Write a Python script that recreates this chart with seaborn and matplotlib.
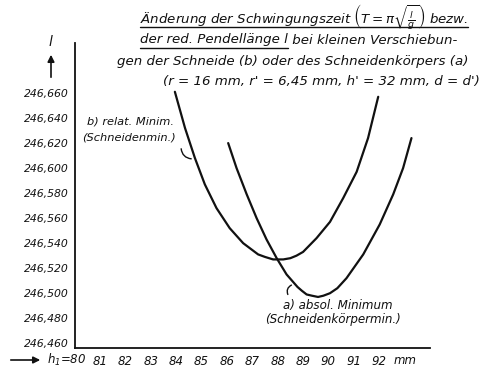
import matplotlib
matplotlib.use("Agg")
import matplotlib.pyplot as plt
import pandas as pd
import seaborn as sns
from matplotlib.lines import Line2D
from matplotlib.patches import FancyArrowPatch
from matplotlib.ticker import FuncFormatter

# ------------------------------------------------------------------------
#  Data (h1 in mm, l in mm)
# ------------------------------------------------------------------------

# b) relatives Minimum (Schneidenmin.)
h1_b = [83.95, 84.35, 84.74, 85.13, 85.59, 86.11, 86.64, 87.23, 87.50, 87.82,
        88.22, 88.50, 88.74, 89.00, 89.53, 90.06, 90.58, 91.11, 91.56, 91.96]
l_b = [246.661, 246.632, 246.608, 246.587, 246.568, 246.552, 246.540, 246.531, 246.529, 246.527,
       246.527, 246.528, 246.530, 246.533, 246.544, 246.557, 246.576, 246.597, 246.624, 246.657]

# a) absolutes Minimum (Schneidenkoerpermin.)
h1_a = [86.05, 86.38, 86.78, 87.17, 87.56, 87.96, 88.35, 88.78, 88.95, 89.14, 89.35,
        89.59, 89.80, 90.06, 90.35, 90.71, 91.37, 92.02, 92.55, 92.94, 93.27]
l_a = [246.620, 246.600, 246.579, 246.560, 246.543, 246.528, 246.515, 246.505, 246.502, 246.499, 246.498,
       246.497, 246.498, 246.500, 246.504, 246.512, 246.531, 246.555, 246.579, 246.600, 246.624]

x_ticks = [81, 82, 83, 84, 85, 86, 87, 88, 89, 90, 91, 92]
y_ticks = [246.46, 246.48, 246.50, 246.52, 246.54, 246.56, 246.58, 246.60, 246.62, 246.64, 246.66]

title_lines = [
    r"Änderung der Schwingungszeit $\left(T=\pi\sqrt{\frac{l}{g}}\right)$ bezw.",
    "der red. Pendellänge l",
    " bei kleinen Verschiebun-",
    "gen der Schneide (b) oder des Schneidenkörpers (a)",
    "(r = 16 mm, r' = 6,45 mm, h' = 32 mm, d = d')",
]

W, H = 485, 367
INK = "#111111"


def px(x, y):
    """pixel position in the 485x367 image -> figure fraction"""
    return x / W, 1 - y / H


sns.set_theme(style="white")
plt.rcParams["font.family"] = ["DejaVu Sans"]
plt.rcParams["font.style"] = "italic"
plt.rcParams["mathtext.fontset"] = "dejavusans"

fig = plt.figure(figsize=(W / 100, H / 100), dpi=100)
fig.patch.set_facecolor("white")
ax = fig.add_axes([74.6 / W, 19 / H, 355.4 / W, 305 / H])

df_b = pd.DataFrame({"h1": h1_b, "l": l_b})
df_a = pd.DataFrame({"h1": h1_a, "l": l_a})
for df in (df_b, df_a):
    sns.lineplot(data=df, x="h1", y="l", sort=False, estimator=None, color=INK, lw=1.6,
                 solid_joinstyle="round", solid_capstyle="round", ax=ax)

ax.set_xlim(80, 94)
ax.set_ylim(246.4562, 246.700)
ax.set_xticks(x_ticks)
ax.set_yticks(y_ticks)
ax.yaxis.set_major_formatter(FuncFormatter(lambda v, _: f"{v:.3f}".replace(".", ",")))
ax.set_xlabel("")
ax.set_ylabel("")
for side in ["top", "right"]:
    ax.spines[side].set_visible(False)
for side in ["left", "bottom"]:
    ax.spines[side].set_color(INK)
    ax.spines[side].set_linewidth(1.3)
ax.tick_params(axis="x", direction="in", length=5, width=1, colors=INK, pad=5, labelsize=8.5)
ax.tick_params(axis="y", direction="out", length=3.5, width=1, colors=INK, pad=1, labelsize=7.8)
ax.set_facecolor("white")

# x axis extra labels
fig.text(*px(86, 360), r"$h_1$=80", ha="right", va="center", fontsize=8.5, color=INK)
fig.text(*px(405, 360), "mm", ha="center", va="center", fontsize=8.5, color=INK)
fig.add_artist(FancyArrowPatch(px(8, 360), px(43, 360), transform=fig.transFigure,
                               arrowstyle="-|>,head_length=4,head_width=2", color=INK, lw=1.2))

# y axis label with arrow
fig.text(*px(50, 42), "l", ha="center", va="center", fontsize=10, color=INK)
fig.add_artist(FancyArrowPatch(px(51, 80), px(51, 52), transform=fig.transFigure,
                               arrowstyle="-|>,head_length=4,head_width=2", color=INK, lw=1.2))

# title block
FS = 9.6
t1 = fig.text(*px(140, 17), title_lines[0], ha="left", va="center", fontsize=FS, color=INK)
t2a = fig.text(*px(140, 40), title_lines[1], ha="left", va="center", fontsize=FS, color=INK)
fig.canvas.draw()
renderer = fig.canvas.get_renderer()
bb2 = t2a.get_window_extent(renderer)
fig.text(bb2.x1 / W, 1 - 40 / H, title_lines[2], ha="left", va="center", fontsize=FS, color=INK)
fig.text(*px(117, 61), title_lines[3], ha="left", va="center", fontsize=FS, color=INK)
fig.text(*px(163, 81), title_lines[4], ha="left", va="center", fontsize=FS, color=INK)

bb1 = t1.get_window_extent(renderer)
for bb, y in [(bb1, 27), (bb2, 48)]:
    fig.add_artist(Line2D([bb.x0 / W, bb.x1 / W], [1 - y / H, 1 - y / H],
                          transform=fig.transFigure, color=INK, lw=1.0))

# curve labels
fig.text(*px(87, 122), "b) relat. Minim.", ha="left", va="center", fontsize=8.2, color=INK)
fig.text(*px(82, 138), "(Schneidenmin.)", ha="left", va="center", fontsize=8.2, color=INK)
fig.add_artist(FancyArrowPatch(px(181, 146), px(194, 159), transform=fig.transFigure,
                               arrowstyle="-", connectionstyle="arc3,rad=0.5", color=INK, lw=1.0))

fig.text(*px(283, 305), "a) absol. Minimum", ha="left", va="center", fontsize=8.6, color=INK)
fig.text(*px(265, 320), "(Schneidenkörpermin.)", ha="left", va="center", fontsize=8.6, color=INK)
fig.add_artist(FancyArrowPatch(px(289, 297), px(294, 284), transform=fig.transFigure,
                               arrowstyle="-", connectionstyle="arc3,rad=-0.6", color=INK, lw=1.0))

fig.savefig("out.png", dpi=100, facecolor="white")
plt.close(fig)
